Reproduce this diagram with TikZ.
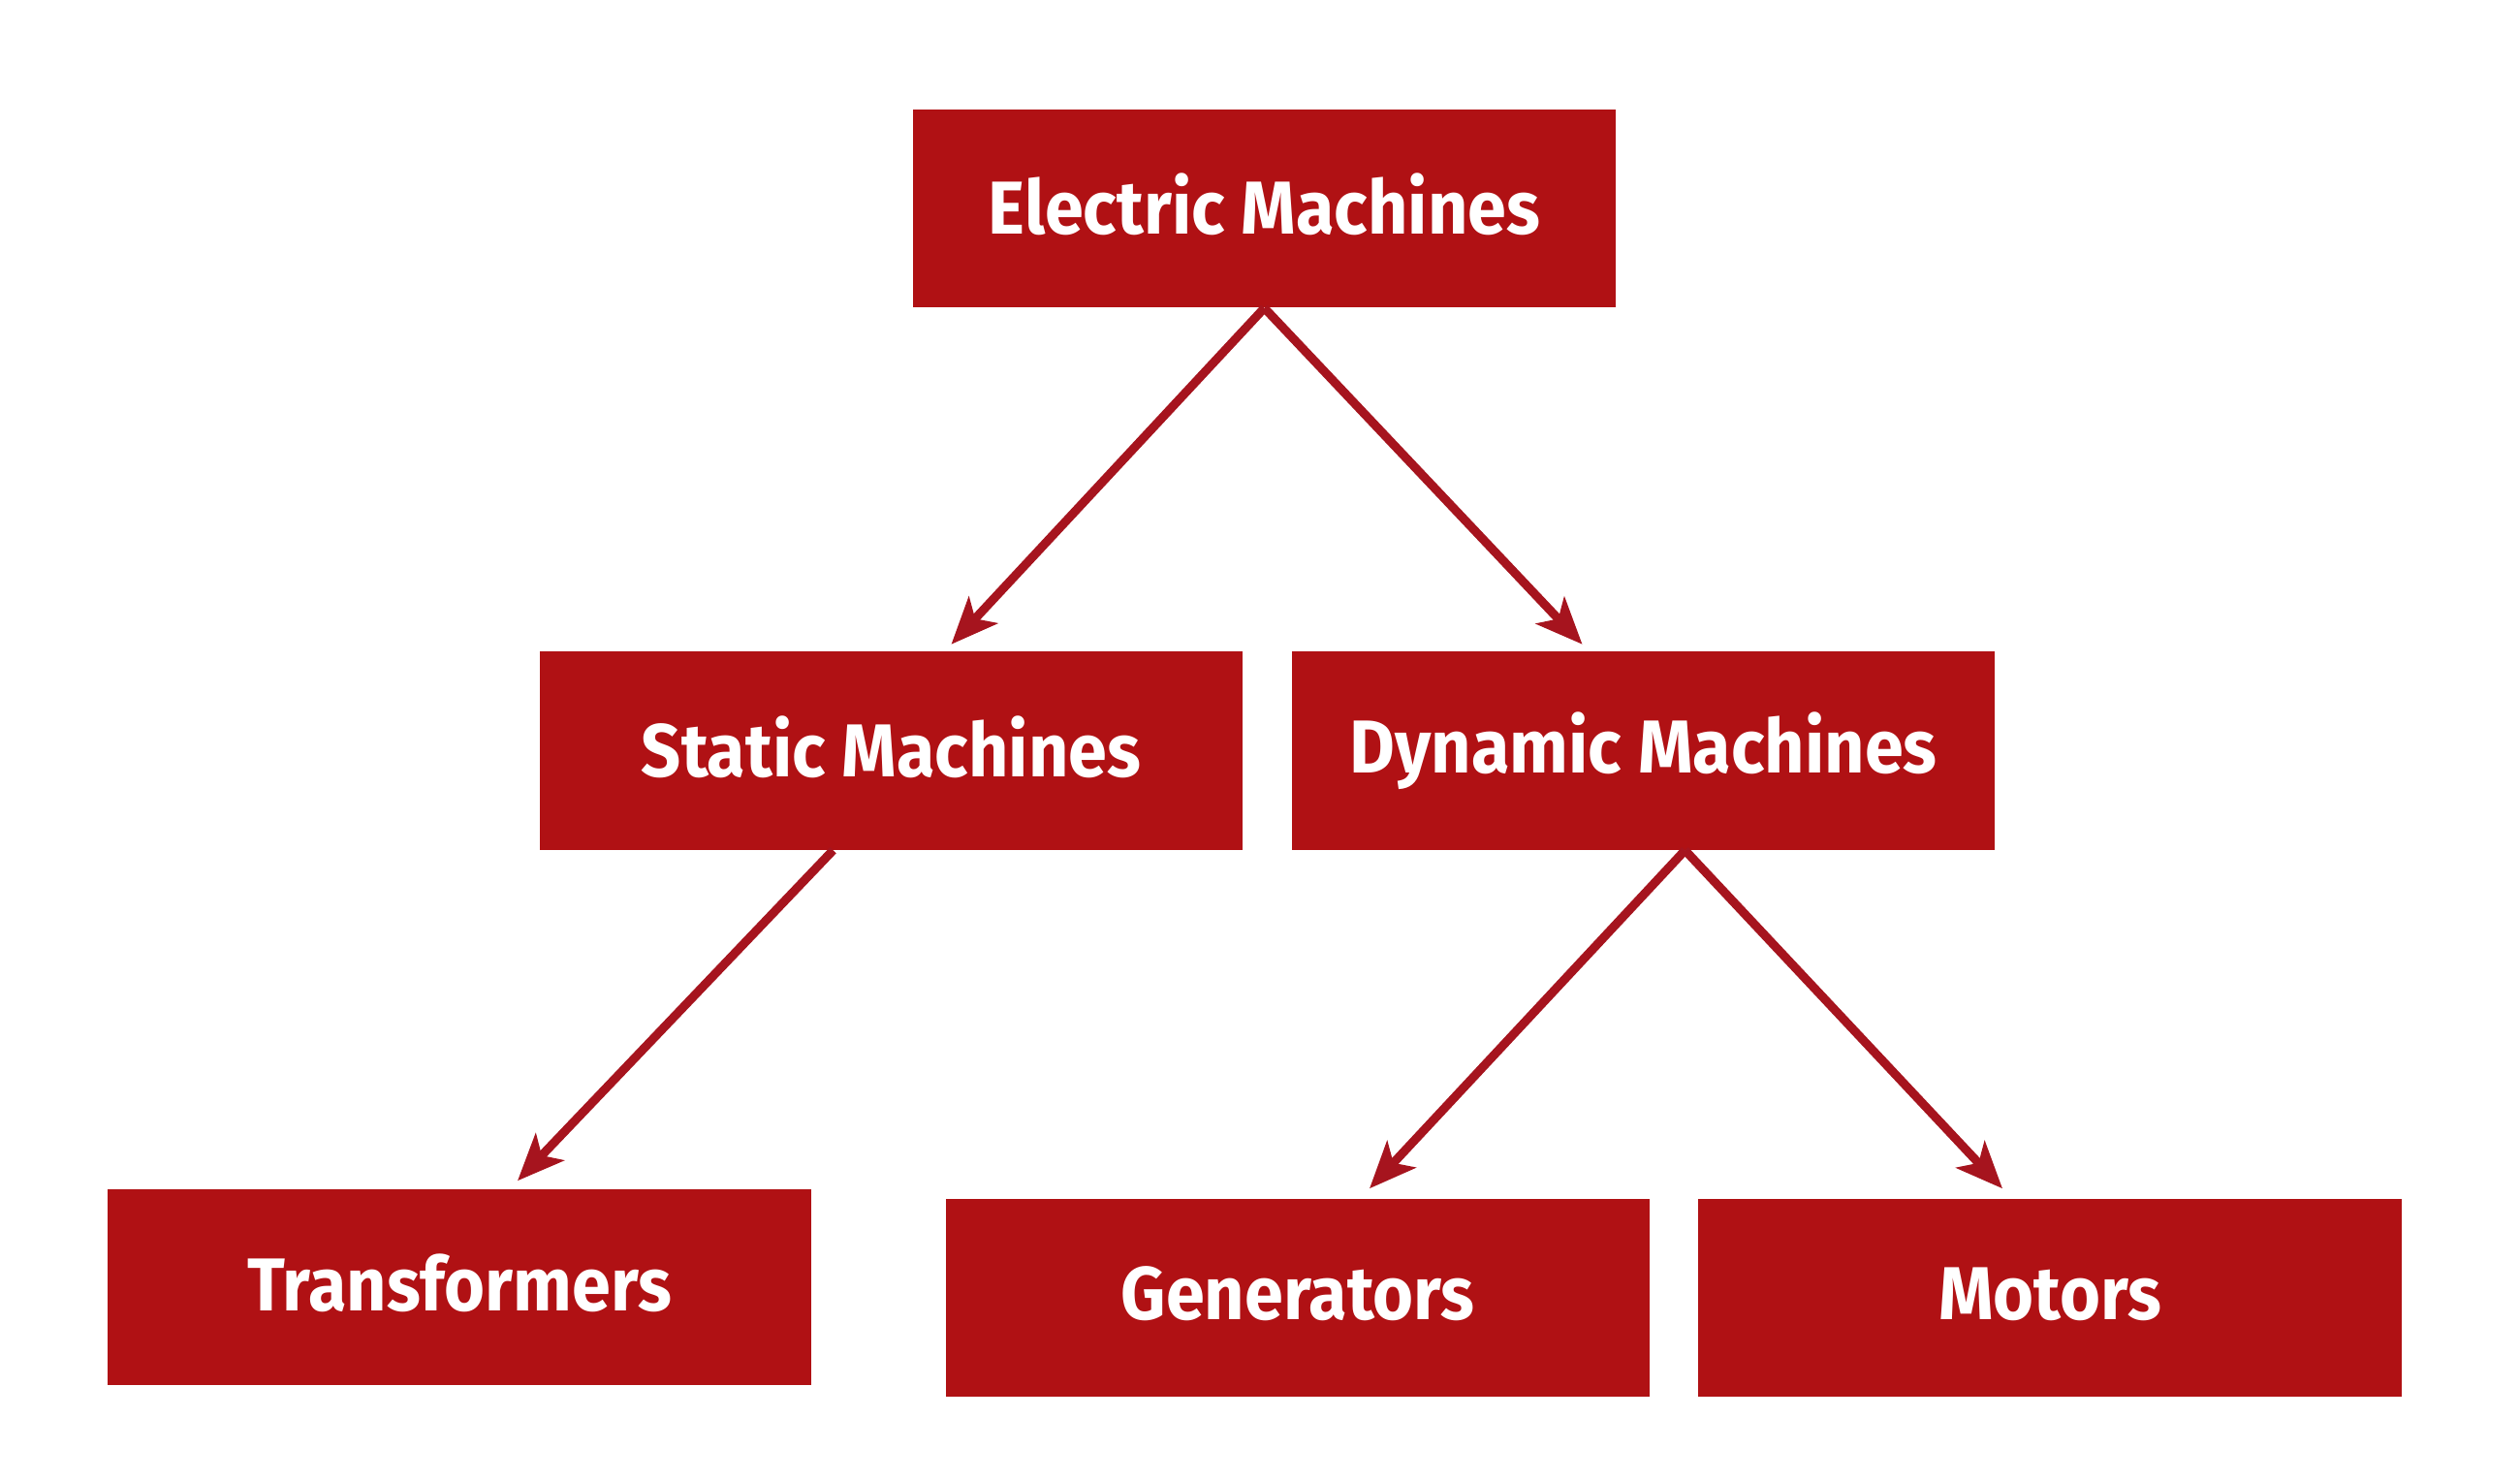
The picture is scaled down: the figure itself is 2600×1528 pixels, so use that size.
\documentclass[tikz,border=0pt]{standalone}
\usepackage{fontspec}
\setmainfont{Fira Sans}
\usetikzlibrary{arrows.meta,calc}
\definecolor{boxred}{RGB}{176,17,20}
\definecolor{arrred}{RGB}{166,20,30}
\newcommand{\lbl}[1]{\raisebox{0.09cm}{\scalebox{0.93}[1]{#1}}}
\begin{document}
\begin{tikzpicture}[x=0.01cm,y=-0.01cm,
  catbox/.style={fill=boxred,draw=none,minimum width=7.25cm,minimum height=2.04cm,inner sep=0pt,
    text=white,font=\fontsize{22}{26}\selectfont\bfseries},
  conn/.style={draw=arrred,line width=0.09cm,-{Stealth[length=0.48cm,width=0.4cm,inset=0.12cm]}}]
\useasboundingbox[fill=white] (0,0) rectangle (2600,1528);
\node[catbox] (em) at (1304.5,215) {\lbl{Electric Machines}};
\node[catbox] (sm) at (919.5,774.5) {\lbl{Static Machines}};
\node[catbox] (dm) at (1695.5,774.5) {\lbl{Dynamic Machines}};
\node[catbox,minimum height=2.02cm] (tr) at (474,1328) {\lbl{Transformers}};
\node[catbox] (ge) at (1339,1339) {\lbl{Generators}};
\node[catbox] (mo) at (2115,1339) {\lbl{Motors}};
\coordinate (emS) at ($(em.south)+(0,0)$);
\coordinate (smS) at ($(sm.south)+(-60,0)$);
\coordinate (dmS) at ($(dm.south)+(43,0)$);
\coordinate (t1) at ($(sm.north)+(62,-7)$);
\coordinate (t2) at ($(dm.north)+(-63,-7)$);
\coordinate (t3) at ($(tr.north)+(60,-8)$);
\coordinate (t4) at ($(ge.north)+(74,-10)$);
\coordinate (t5) at ($(mo.north)+(-49,-10)$);
\draw[conn] (emS) -- (t1);
\draw[conn] (emS) -- (t2);
\draw[conn] (smS) -- (t3);
\draw[conn] (dmS) -- (t4);
\draw[conn] (dmS) -- (t5);
\end{tikzpicture}
\end{document}
